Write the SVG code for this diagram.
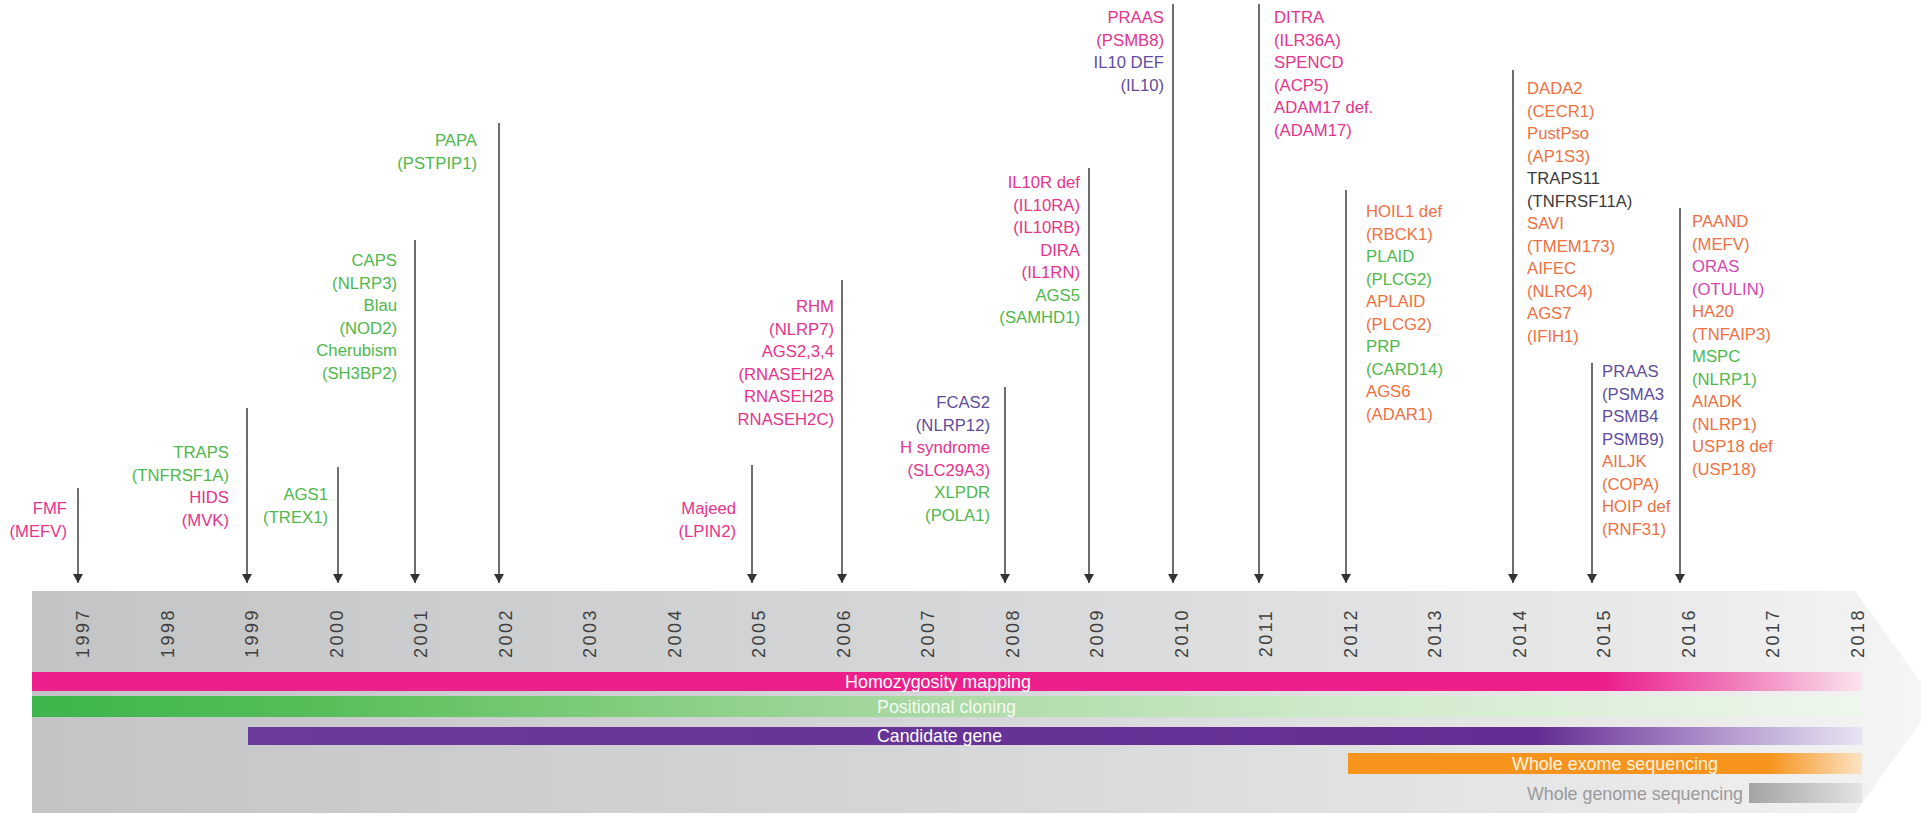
<svg xmlns="http://www.w3.org/2000/svg" width="1921" height="815" viewBox="0 0 1921 815">
<style>
.lbl{font-family:"Liberation Sans",Arial,sans-serif;font-size:16.7px}
.r{text-anchor:end}
.pk{fill:#e6338b}
.gr{fill:#4fb84b}
.pu{fill:#5f4b9e}
.or{fill:#f0703f}
.dk{fill:#3a3a3a}
.mg{fill:#d645b0}
.yr{font-family:"Liberation Sans",Arial,sans-serif;font-size:18px;letter-spacing:2.5px;fill:#3f3f3f;text-anchor:middle}
.bl{font-family:"Liberation Sans Narrow","Liberation Sans",Arial,sans-serif;font-size:19px}
.arr{stroke:#6e6e6e;stroke-width:2;fill:none;marker-end:url(#ah)}
</style>
<defs>
<marker id="ah" viewBox="0 0 9 10" refX="9" refY="5" markerWidth="9" markerHeight="10" markerUnits="userSpaceOnUse" orient="auto">
<path d="M0,0 L9,5 L0,10 z" fill="#333"/>
</marker>
<linearGradient id="gBand" gradientUnits="userSpaceOnUse" x1="32" y1="0" x2="1935" y2="0">
<stop offset="0" stop-color="#c3c4c6"/>
<stop offset="0.5" stop-color="#d6d7d8"/>
<stop offset="0.85" stop-color="#e9e9ea"/>
<stop offset="0.95" stop-color="#f1f1f1"/>
<stop offset="1" stop-color="#f6f6f6"/>
</linearGradient>
<linearGradient id="gPink" gradientUnits="userSpaceOnUse" x1="32" y1="0" x2="1862" y2="0">
<stop offset="0" stop-color="#ec1f8d"/>
<stop offset="0.86" stop-color="#ec1f8d"/>
<stop offset="0.93" stop-color="#f07ab8"/>
<stop offset="1" stop-color="#fbe3ef"/>
</linearGradient>
<linearGradient id="gGreen" gradientUnits="userSpaceOnUse" x1="32" y1="0" x2="1862" y2="0">
<stop offset="0" stop-color="#3cb54a"/>
<stop offset="0.15" stop-color="#55bd58"/>
<stop offset="0.3" stop-color="#7ccb78"/>
<stop offset="0.5" stop-color="#acdaa6"/>
<stop offset="0.7" stop-color="#cde8c8"/>
<stop offset="1" stop-color="#eef7ec"/>
</linearGradient>
<linearGradient id="gPurple" gradientUnits="userSpaceOnUse" x1="248" y1="0" x2="1862" y2="0">
<stop offset="0" stop-color="#6a3a9c"/>
<stop offset="0.8" stop-color="#642d93"/>
<stop offset="0.9" stop-color="#a98bc8"/>
<stop offset="1" stop-color="#e8e4f2"/>
</linearGradient>
<linearGradient id="gOrange" gradientUnits="userSpaceOnUse" x1="1348" y1="0" x2="1862" y2="0">
<stop offset="0" stop-color="#f7941e"/>
<stop offset="0.82" stop-color="#f7941e"/>
<stop offset="1" stop-color="#fbe3c4"/>
</linearGradient>
<linearGradient id="gGray" gradientUnits="userSpaceOnUse" x1="1749" y1="0" x2="1862" y2="0">
<stop offset="0" stop-color="#a2a3a5"/>
<stop offset="1" stop-color="#e4e4e4"/>
</linearGradient>
</defs>
<rect x="0" y="0" width="1921" height="815" fill="#ffffff"/>

<g id="timeline-band">
<polygon points="32,591 1855,591 1935,702 1855,813 32,813" fill="url(#gBand)"/>
</g>

<g id="years">
<text class="yr" transform="translate(82.5,633) rotate(-90)" y="6.5">1997</text>
<text class="yr" transform="translate(167,633) rotate(-90)" y="6.5">1998</text>
<text class="yr" transform="translate(251.5,633) rotate(-90)" y="6.5">1999</text>
<text class="yr" transform="translate(336,633) rotate(-90)" y="6.5">2000</text>
<text class="yr" transform="translate(420.5,633) rotate(-90)" y="6.5">2001</text>
<text class="yr" transform="translate(505,633) rotate(-90)" y="6.5">2002</text>
<text class="yr" transform="translate(589.5,633) rotate(-90)" y="6.5">2003</text>
<text class="yr" transform="translate(674,633) rotate(-90)" y="6.5">2004</text>
<text class="yr" transform="translate(758.5,633) rotate(-90)" y="6.5">2005</text>
<text class="yr" transform="translate(843,633) rotate(-90)" y="6.5">2006</text>
<text class="yr" transform="translate(927.5,633) rotate(-90)" y="6.5">2007</text>
<text class="yr" transform="translate(1012,633) rotate(-90)" y="6.5">2008</text>
<text class="yr" transform="translate(1096.5,633) rotate(-90)" y="6.5">2009</text>
<text class="yr" transform="translate(1181,633) rotate(-90)" y="6.5">2010</text>
<text class="yr" transform="translate(1265.5,633) rotate(-90)" y="6.5">2011</text>
<text class="yr" transform="translate(1350,633) rotate(-90)" y="6.5">2012</text>
<text class="yr" transform="translate(1434.5,633) rotate(-90)" y="6.5">2013</text>
<text class="yr" transform="translate(1519,633) rotate(-90)" y="6.5">2014</text>
<text class="yr" transform="translate(1603.5,633) rotate(-90)" y="6.5">2015</text>
<text class="yr" transform="translate(1688,633) rotate(-90)" y="6.5">2016</text>
<text class="yr" transform="translate(1772.5,633) rotate(-90)" y="6.5">2017</text>
<text class="yr" transform="translate(1857,633) rotate(-90)" y="6.5">2018</text>
</g>

<g id="method-bars">
<rect x="32" y="672" width="1830" height="19" fill="url(#gPink)"/>
<text class="bl" x="845" y="688" fill="#ffffff" textLength="186" lengthAdjust="spacingAndGlyphs">Homozygosity mapping</text>
<rect x="32" y="696" width="1830" height="21" fill="url(#gGreen)"/>
<text class="bl" x="877" y="713" fill="#f4faf2" textLength="139" lengthAdjust="spacingAndGlyphs">Positional cloning</text>
<rect x="248" y="727" width="1614" height="18" fill="url(#gPurple)"/>
<text class="bl" x="877" y="742" fill="#ffffff" textLength="125" lengthAdjust="spacingAndGlyphs">Candidate gene</text>
<rect x="1348" y="753" width="514" height="21" fill="url(#gOrange)"/>
<text class="bl" x="1512" y="770" fill="#fff4e0" textLength="206" lengthAdjust="spacingAndGlyphs">Whole exome sequencing</text>
<rect x="1749" y="783" width="113" height="20" fill="url(#gGray)"/>
<text class="bl" x="1527" y="800" fill="#9a9a9a" textLength="216" lengthAdjust="spacingAndGlyphs">Whole genome sequencing</text>
</g>

<g id="connectors">
<line class="arr" x1="78" y1="488" x2="78" y2="583"/>
<line class="arr" x1="247" y1="408" x2="247" y2="583"/>
<line class="arr" x1="338" y1="467" x2="338" y2="583"/>
<line class="arr" x1="415" y1="240" x2="415" y2="583"/>
<line class="arr" x1="499" y1="123" x2="499" y2="583"/>
<line class="arr" x1="752" y1="465" x2="752" y2="583"/>
<line class="arr" x1="842" y1="280" x2="842" y2="583"/>
<line class="arr" x1="1005" y1="387" x2="1005" y2="583"/>
<line class="arr" x1="1089" y1="168" x2="1089" y2="583"/>
<line class="arr" x1="1173" y1="4" x2="1173" y2="583"/>
<line class="arr" x1="1259" y1="4" x2="1259" y2="583"/>
<line class="arr" x1="1346" y1="190" x2="1346" y2="583"/>
<line class="arr" x1="1513" y1="70" x2="1513" y2="583"/>
<line class="arr" x1="1592" y1="363" x2="1592" y2="583"/>
<line class="arr" x1="1680" y1="208" x2="1680" y2="583"/>
</g>

<g id="n1997">
<text class="lbl r" y="514"><tspan class="pk" x="67">FMF</tspan><tspan class="pk" x="67" dy="22.5">(MEFV)</tspan></text>
</g>
<g id="n1999">
<text class="lbl r" y="458"><tspan class="gr" x="229">TRAPS</tspan><tspan class="gr" x="229" dy="22.5">(TNFRSF1A)</tspan><tspan class="pk" x="229" dy="22.5">HIDS</tspan><tspan class="pk" x="229" dy="22.5">(MVK)</tspan></text>
</g>
<g id="n2000">
<text class="lbl r" y="500"><tspan class="gr" x="328">AGS1</tspan><tspan class="gr" x="328" dy="22.5">(TREX1)</tspan></text>
</g>
<g id="n2001">
<text class="lbl r gr" y="266"><tspan x="397">CAPS</tspan><tspan x="397" dy="22.5">(NLRP3)</tspan><tspan x="397" dy="22.5">Blau</tspan><tspan x="397" dy="22.5">(NOD2)</tspan><tspan x="397" dy="22.5">Cherubism</tspan><tspan x="397" dy="22.5">(SH3BP2)</tspan></text>
</g>
<g id="n2002">
<text class="lbl r gr" y="146"><tspan x="477">PAPA</tspan><tspan x="477" dy="22.5">(PSTPIP1)</tspan></text>
</g>
<g id="n2005">
<text class="lbl r pk" y="514"><tspan x="736">Majeed</tspan><tspan x="736" dy="22.5">(LPIN2)</tspan></text>
</g>
<g id="n2006">
<text class="lbl r pk" y="312"><tspan x="834">RHM</tspan><tspan x="834" dy="22.5">(NLRP7)</tspan><tspan x="834" dy="22.5">AGS2,3,4</tspan><tspan x="834" dy="22.5">(RNASEH2A</tspan><tspan x="834" dy="22.5">RNASEH2B</tspan><tspan x="834" dy="22.5">RNASEH2C)</tspan></text>
</g>
<g id="n2008">
<text class="lbl r" y="408"><tspan class="pu" x="990">FCAS2</tspan><tspan class="pu" x="990" dy="22.5">(NLRP12)</tspan><tspan class="pk" x="990" dy="22.5">H syndrome</tspan><tspan class="pk" x="990" dy="22.5">(SLC29A3)</tspan><tspan class="gr" x="990" dy="22.5">XLPDR</tspan><tspan class="gr" x="990" dy="22.5">(POLA1)</tspan></text>
</g>
<g id="n2009">
<text class="lbl r" y="188"><tspan class="pk" x="1080">IL10R def</tspan><tspan class="pk" x="1080" dy="22.5">(IL10RA)</tspan><tspan class="pk" x="1080" dy="22.5">(IL10RB)</tspan><tspan class="pk" x="1080" dy="22.5">DIRA</tspan><tspan class="pk" x="1080" dy="22.5">(IL1RN)</tspan><tspan class="gr" x="1080" dy="22.5">AGS5</tspan><tspan class="gr" x="1080" dy="22.5">(SAMHD1)</tspan></text>
</g>
<g id="n2010">
<text class="lbl r" y="23"><tspan class="pk" x="1164">PRAAS</tspan><tspan class="pk" x="1164" dy="22.5">(PSMB8)</tspan><tspan class="pu" x="1164" dy="22.5">IL10 DEF</tspan><tspan class="pu" x="1164" dy="22.5">(IL10)</tspan></text>
</g>
<g id="n2011">
<text class="lbl pk" y="23"><tspan x="1274">DITRA</tspan><tspan x="1274" dy="22.5">(ILR36A)</tspan><tspan x="1274" dy="22.5">SPENCD</tspan><tspan x="1274" dy="22.5">(ACP5)</tspan><tspan x="1274" dy="22.5">ADAM17 def.</tspan><tspan x="1274" dy="22.5">(ADAM17)</tspan></text>
</g>
<g id="n2012">
<text class="lbl" y="217"><tspan class="or" x="1366">HOIL1 def</tspan><tspan class="or" x="1366" dy="22.5">(RBCK1)</tspan><tspan class="gr" x="1366" dy="22.5">PLAID</tspan><tspan class="gr" x="1366" dy="22.5">(PLCG2)</tspan><tspan class="or" x="1366" dy="22.5">APLAID</tspan><tspan class="or" x="1366" dy="22.5">(PLCG2)</tspan><tspan class="gr" x="1366" dy="22.5">PRP</tspan><tspan class="gr" x="1366" dy="22.5">(CARD14)</tspan><tspan class="or" x="1366" dy="22.5">AGS6</tspan><tspan class="or" x="1366" dy="22.5">(ADAR1)</tspan></text>
</g>
<g id="n2014">
<text class="lbl" y="94"><tspan class="or" x="1527">DADA2</tspan><tspan class="or" x="1527" dy="22.5">(CECR1)</tspan><tspan class="or" x="1527" dy="22.5">PustPso</tspan><tspan class="or" x="1527" dy="22.5">(AP1S3)</tspan><tspan class="dk" x="1527" dy="22.5">TRAPS11</tspan><tspan class="dk" x="1527" dy="22.5">(TNFRSF11A)</tspan><tspan class="or" x="1527" dy="22.5">SAVI</tspan><tspan class="or" x="1527" dy="22.5">(TMEM173)</tspan><tspan class="or" x="1527" dy="22.5">AIFEC</tspan><tspan class="or" x="1527" dy="22.5">(NLRC4)</tspan><tspan class="or" x="1527" dy="22.5">AGS7</tspan><tspan class="or" x="1527" dy="22.5">(IFIH1)</tspan></text>
</g>
<g id="n2015">
<text class="lbl" y="377"><tspan class="pu" x="1602">PRAAS</tspan><tspan class="pu" x="1602" dy="22.5">(PSMA3</tspan><tspan class="pu" x="1602" dy="22.5">PSMB4</tspan><tspan class="pu" x="1602" dy="22.5">PSMB9)</tspan><tspan class="or" x="1602" dy="22.5">AILJK</tspan><tspan class="or" x="1602" dy="22.5">(COPA)</tspan><tspan class="or" x="1602" dy="22.5">HOIP def</tspan><tspan class="or" x="1602" dy="22.5">(RNF31)</tspan></text>
</g>
<g id="n2016">
<text class="lbl" y="227"><tspan class="or" x="1692">PAAND</tspan><tspan class="or" x="1692" dy="22.5">(MEFV)</tspan><tspan class="mg" x="1692" dy="22.5">ORAS</tspan><tspan class="mg" x="1692" dy="22.5">(OTULIN)</tspan><tspan class="or" x="1692" dy="22.5">HA20</tspan><tspan class="or" x="1692" dy="22.5">(TNFAIP3)</tspan><tspan class="gr" x="1692" dy="22.5">MSPC</tspan><tspan class="gr" x="1692" dy="22.5">(NLRP1)</tspan><tspan class="or" x="1692" dy="22.5">AIADK</tspan><tspan class="or" x="1692" dy="22.5">(NLRP1)</tspan><tspan class="or" x="1692" dy="22.5">USP18 def</tspan><tspan class="or" x="1692" dy="22.5">(USP18)</tspan></text>
</g>
</svg>
